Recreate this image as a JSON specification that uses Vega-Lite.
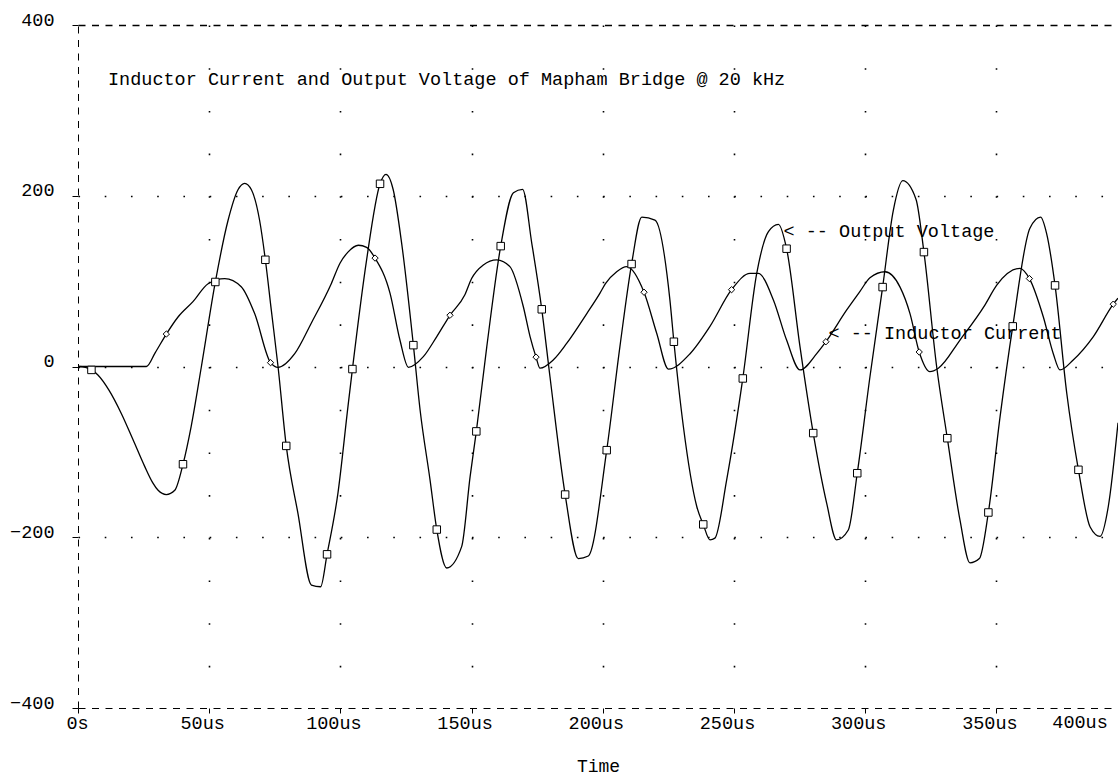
{
  "$schema": "https://vega.github.io/schema/vega-lite/v6.json",
  "width": 1040,
  "height": 683,
  "autosize": {"type": "none"},
  "padding": {"left": 78, "top": 25, "right": 0, "bottom": 75},
  "background": "white",
  "config": {"view": {"stroke": null}},
  "datasets": {
    "curves": [
      {"s":"V","t":0,"v":0,"m":0},
      {"s":"V","t":2.84,"v":-1,"m":0},
      {"s":"V","t":5.12,"v":-4,"m":1},
      {"s":"V","t":7.59,"v":-10,"m":0},
      {"s":"V","t":11.85,"v":-28,"m":0},
      {"s":"V","t":16.5,"v":-55,"m":0},
      {"s":"V","t":20.86,"v":-85,"m":0},
      {"s":"V","t":25.41,"v":-117,"m":0},
      {"s":"V","t":28.45,"v":-136,"m":0},
      {"s":"V","t":30.53,"v":-145,"m":0},
      {"s":"V","t":33.66,"v":-150,"m":0},
      {"s":"V","t":36.88,"v":-145,"m":0},
      {"s":"V","t":40.01,"v":-114.5,"m":1},
      {"s":"V","t":43.14,"v":-70,"m":0},
      {"s":"V","t":47.03,"v":0,"m":0},
      {"s":"V","t":52.34,"v":99,"m":1},
      {"s":"V","t":57.17,"v":171,"m":0},
      {"s":"V","t":60.97,"v":207,"m":0},
      {"s":"V","t":63.53,"v":214.5,"m":0},
      {"s":"V","t":66.09,"v":207,"m":0},
      {"s":"V","t":69.22,"v":171,"m":0},
      {"s":"V","t":71.4,"v":125,"m":1},
      {"s":"V","t":73.67,"v":66,"m":0},
      {"s":"V","t":76.23,"v":0,"m":0},
      {"s":"V","t":79.36,"v":-93,"m":1},
      {"s":"V","t":83.82,"v":-172,"m":0},
      {"s":"V","t":88.94,"v":-256,"m":0},
      {"s":"V","t":92.45,"v":-258,"m":0},
      {"s":"V","t":94.91,"v":-220,"m":1},
      {"s":"V","t":99.08,"v":-148,"m":0},
      {"s":"V","t":102.88,"v":-47,"m":0},
      {"s":"V","t":104.58,"v":-3,"m":1},
      {"s":"V","t":109.99,"v":125,"m":0},
      {"s":"V","t":115.11,"v":214,"m":1},
      {"s":"V","t":117.38,"v":225,"m":0},
      {"s":"V","t":120.13,"v":207,"m":0},
      {"s":"V","t":123.36,"v":144,"m":0},
      {"s":"V","t":127.81,"v":25,"m":1},
      {"s":"V","t":130.37,"v":-51,"m":0},
      {"s":"V","t":134.17,"v":-133,"m":0},
      {"s":"V","t":136.73,"v":-191,"m":1},
      {"s":"V","t":140.52,"v":-236,"m":0},
      {"s":"V","t":146.21,"v":-211,"m":0},
      {"s":"V","t":149.43,"v":-129,"m":0},
      {"s":"V","t":151.8,"v":-76,"m":1},
      {"s":"V","t":155.78,"v":23,"m":0},
      {"s":"V","t":161.09,"v":141,"m":1},
      {"s":"V","t":165.93,"v":203.5,"m":0},
      {"s":"V","t":169.44,"v":207.5,"m":0},
      {"s":"V","t":172.95,"v":144,"m":0},
      {"s":"V","t":176.74,"v":67,"m":1},
      {"s":"V","t":179.87,"v":-12,"m":0},
      {"s":"V","t":185.65,"v":-150,"m":1},
      {"s":"V","t":190.68,"v":-225,"m":0},
      {"s":"V","t":194.47,"v":-222,"m":0},
      {"s":"V","t":201.49,"v":-98,"m":1},
      {"s":"V","t":206.51,"v":23,"m":0},
      {"s":"V","t":210.97,"v":120,"m":1},
      {"s":"V","t":214.86,"v":175,"m":0},
      {"s":"V","t":219.88,"v":171.5,"m":0},
      {"s":"V","t":225.57,"v":78,"m":0},
      {"s":"V","t":227.09,"v":29,"m":1},
      {"s":"V","t":230.69,"v":-70,"m":0},
      {"s":"V","t":235.81,"v":-164,"m":0},
      {"s":"V","t":238.28,"v":-185,"m":1},
      {"s":"V","t":240.84,"v":-203,"m":0},
      {"s":"V","t":242.73,"v":-201,"m":0},
      {"s":"V","t":247.19,"v":-133,"m":0},
      {"s":"V","t":253.35,"v":-14,"m":1},
      {"s":"V","t":258.66,"v":109,"m":0},
      {"s":"V","t":263.12,"v":158,"m":0},
      {"s":"V","t":266.91,"v":166.5,"m":0},
      {"s":"V","t":270.04,"v":138,"m":1},
      {"s":"V","t":275.16,"v":23,"m":0},
      {"s":"V","t":280.19,"v":-78,"m":1},
      {"s":"V","t":285.31,"v":-160,"m":0},
      {"s":"V","t":289.1,"v":-203,"m":0},
      {"s":"V","t":293.56,"v":-191.5,"m":0},
      {"s":"V","t":296.97,"v":-125,"m":1},
      {"s":"V","t":301.81,"v":-12,"m":0},
      {"s":"V","t":306.64,"v":93,"m":1},
      {"s":"V","t":310.72,"v":183,"m":0},
      {"s":"V","t":314.32,"v":217.6,"m":0},
      {"s":"V","t":319.35,"v":196,"m":0},
      {"s":"V","t":322.38,"v":134,"m":1},
      {"s":"V","t":327.22,"v":0,"m":0},
      {"s":"V","t":331.29,"v":-84,"m":1},
      {"s":"V","t":336.13,"v":-180,"m":0},
      {"s":"V","t":339.92,"v":-230,"m":0},
      {"s":"V","t":343.52,"v":-225,"m":0},
      {"s":"V","t":346.94,"v":-171,"m":1},
      {"s":"V","t":351.39,"v":-59,"m":0},
      {"s":"V","t":356.23,"v":47,"m":1},
      {"s":"V","t":362.77,"v":162,"m":0},
      {"s":"V","t":366.85,"v":175,"m":0},
      {"s":"V","t":369.12,"v":156,"m":0},
      {"s":"V","t":372.35,"v":95,"m":1},
      {"s":"V","t":376.8,"v":-31,"m":0},
      {"s":"V","t":381.26,"v":-121,"m":1},
      {"s":"V","t":385.72,"v":-188,"m":0},
      {"s":"V","t":389.51,"v":-199,"m":0},
      {"s":"V","t":392.64,"v":-164,"m":0},
      {"s":"V","t":396.34,"v":-66,"m":0},
      {"s":"I","t":0,"v":0,"m":0},
      {"s":"I","t":26.07,"v":0,"m":0},
      {"s":"I","t":29.39,"v":16,"m":0},
      {"s":"I","t":33.66,"v":38,"m":1},
      {"s":"I","t":38.12,"v":58,"m":0},
      {"s":"I","t":43.81,"v":76,"m":0},
      {"s":"I","t":49.59,"v":97,"m":0},
      {"s":"I","t":55.94,"v":103,"m":0},
      {"s":"I","t":62.2,"v":93.5,"m":0},
      {"s":"I","t":67.32,"v":62,"m":0},
      {"s":"I","t":73.39,"v":4.5,"m":1},
      {"s":"I","t":76.23,"v":-1,"m":0},
      {"s":"I","t":82.59,"v":15,"m":0},
      {"s":"I","t":88.94,"v":51,"m":0},
      {"s":"I","t":96.52,"v":97,"m":0},
      {"s":"I","t":99.84,"v":121,"m":0},
      {"s":"I","t":102.88,"v":134,"m":0},
      {"s":"I","t":106.86,"v":142,"m":0},
      {"s":"I","t":109.99,"v":139.5,"m":0},
      {"s":"I","t":113.21,"v":127,"m":1},
      {"s":"I","t":118.9,"v":86,"m":0},
      {"s":"I","t":122.69,"v":31,"m":0},
      {"s":"I","t":125.92,"v":-1,"m":0},
      {"s":"I","t":131.61,"v":11.5,"m":0},
      {"s":"I","t":136.73,"v":35,"m":0},
      {"s":"I","t":141.75,"v":60,"m":1},
      {"s":"I","t":147.44,"v":84,"m":0},
      {"s":"I","t":150.0,"v":103,"m":0},
      {"s":"I","t":154.46,"v":119,"m":0},
      {"s":"I","t":159.58,"v":125,"m":0},
      {"s":"I","t":164.6,"v":117,"m":0},
      {"s":"I","t":169.72,"v":70,"m":0},
      {"s":"I","t":172.28,"v":35,"m":0},
      {"s":"I","t":174.56,"v":11,"m":1},
      {"s":"I","t":176.07,"v":-2,"m":0},
      {"s":"I","t":181.1,"v":7.6,"m":0},
      {"s":"I","t":186.22,"v":27,"m":0},
      {"s":"I","t":193.9,"v":62,"m":0},
      {"s":"I","t":198.93,"v":86,"m":0},
      {"s":"I","t":201.01,"v":97,"m":0},
      {"s":"I","t":205.28,"v":111,"m":0},
      {"s":"I","t":209.07,"v":117,"m":0},
      {"s":"I","t":215.71,"v":87,"m":1},
      {"s":"I","t":220.54,"v":39,"m":0},
      {"s":"I","t":225.0,"v":-3,"m":0},
      {"s":"I","t":233.25,"v":15,"m":0},
      {"s":"I","t":240.84,"v":47,"m":0},
      {"s":"I","t":249.08,"v":90,"m":1},
      {"s":"I","t":256.1,"v":109,"m":0},
      {"s":"I","t":259.23,"v":109,"m":0},
      {"s":"I","t":265.01,"v":78,"m":0},
      {"s":"I","t":270.04,"v":31,"m":0},
      {"s":"I","t":275.16,"v":-4,"m":0},
      {"s":"I","t":281.51,"v":15,"m":0},
      {"s":"I","t":285.02,"v":29,"m":1},
      {"s":"I","t":292.89,"v":66,"m":0},
      {"s":"I","t":298.01,"v":88,"m":0},
      {"s":"I","t":301.81,"v":104,"m":0},
      {"s":"I","t":307.59,"v":111,"m":0},
      {"s":"I","t":313.28,"v":93,"m":0},
      {"s":"I","t":317.07,"v":62,"m":0},
      {"s":"I","t":320.58,"v":17,"m":1},
      {"s":"I","t":324.65,"v":-6,"m":0},
      {"s":"I","t":327.88,"v":-2,"m":0},
      {"s":"I","t":336.13,"v":31,"m":0},
      {"s":"I","t":345.61,"v":72,"m":0},
      {"s":"I","t":350.06,"v":95,"m":0},
      {"s":"I","t":358.98,"v":115,"m":0},
      {"s":"I","t":362.58,"v":103,"m":1},
      {"s":"I","t":367.89,"v":58,"m":0},
      {"s":"I","t":371.68,"v":15,"m":0},
      {"s":"I","t":374.24,"v":-4,"m":0},
      {"s":"I","t":379.27,"v":7.6,"m":0},
      {"s":"I","t":386.95,"v":35,"m":0},
      {"s":"I","t":394.54,"v":73,"m":1},
      {"s":"I","t":396.34,"v":80,"m":0}
    ],
    "notes": [
      {"t": 11.43, "v": 329.6, "label": "Inductor Current and Output Voltage of Mapham Bridge @ 20 kHz"},
      {"t": 268.87, "v": 151.6, "label": "< -- Output Voltage"},
      {"t": 286.01, "v": 32.2, "label": "< -- Inductor Current"},
      {"t": 371.3, "v": -423.4, "label": "400us"}
    ]
  },
  "encoding": {
    "x": {
      "field": "t", "type": "quantitative",
      "scale": {"domain": [0, 396.34], "nice": false, "zero": false},
      "axis": {
        "values": [0, 50, 100, 150, 200, 250, 300, 350],
        "labelExpr": "datum.value == 0 ? '0s' : datum.value + 'us'",
        "labelFont": "Liberation Mono", "labelFontSize": 18.5, "labelColor": "black",
        "labelBaseline": "alphabetic", "labelPadding": 15, "labelFlush": false, "labelOverlap": false,
        "labelOffset": {"condition": {"test": "datum.value == 0", "value": -1}, "value": -7},
        "tickSize": 5, "tickColor": "black", "tickWidth": 1,
        "domainColor": "black", "domainWidth": 1, "domainDash": [7, 6.5],
        "grid": true, "gridColor": "black", "gridWidth": 1.6, "gridDash": [1.6, 41.09],
        "gridOpacity": {"condition": {"test": "datum.value == 0", "value": 0}, "value": 1},
        "title": "Time", "titleFont": "Liberation Mono", "titleFontSize": 18, "titleFontWeight": "normal",
        "titleColor": "black", "titleBaseline": "alphabetic", "titleY": 63
      }
    },
    "y": {
      "field": "v", "type": "quantitative",
      "scale": {"domain": [-400, 400], "nice": false, "zero": false},
      "axis": {
        "values": [-400, -200, 0, 200, 400],
        "labelFont": "Liberation Mono", "labelFontSize": 18.5, "labelColor": "black",
        "labelBaseline": "alphabetic", "labelPadding": 18, "labelAlign": "right", "labelFlush": false,
        "tickSize": 6, "tickColor": "black", "tickWidth": 1,
        "domainColor": "black", "domainWidth": 1, "domainDash": [7, 6.5],
        "grid": true, "gridColor": "black", "gridWidth": 1.6,
        "gridDash": {"condition": {"test": "datum.value == 400", "value": [7, 6.5]}, "value": [1.6, 24.63]},
        "gridOpacity": {"condition": {"test": "datum.value == -400", "value": 0}, "value": 1},
        "title": null
      }
    }
  },
  "layer": [
    {
      "data": {"name": "curves"},
      "mark": {"type": "line", "interpolate": "monotone", "color": "black", "strokeWidth": 1.3, "clip": true},
      "encoding": {
        "detail": {"field": "s", "type": "nominal"}
      }
    },
    {
      "data": {"name": "curves"},
      "transform": [{"filter": "datum.m == 1"}],
      "mark": {"type": "point", "filled": true, "fill": "white", "stroke": "black", "strokeWidth": 1, "opacity": 1, "clip": true},
      "encoding": {
        "shape": {"field": "s", "type": "nominal", "scale": {"domain": ["V", "I"], "range": ["square", "diamond"]}, "legend": null},
        "size": {"field": "s", "type": "nominal", "scale": {"domain": ["V", "I"], "range": [56, 40]}, "legend": null}
      }
    },
    {
      "data": {"name": "notes"},
      "mark": {"type": "text", "align": "left", "baseline": "alphabetic", "font": "Liberation Mono", "fontSize": 18.5, "color": "black"},
      "encoding": {
        "text": {"field": "label", "type": "nominal"}
      }
    }
  ]
}
